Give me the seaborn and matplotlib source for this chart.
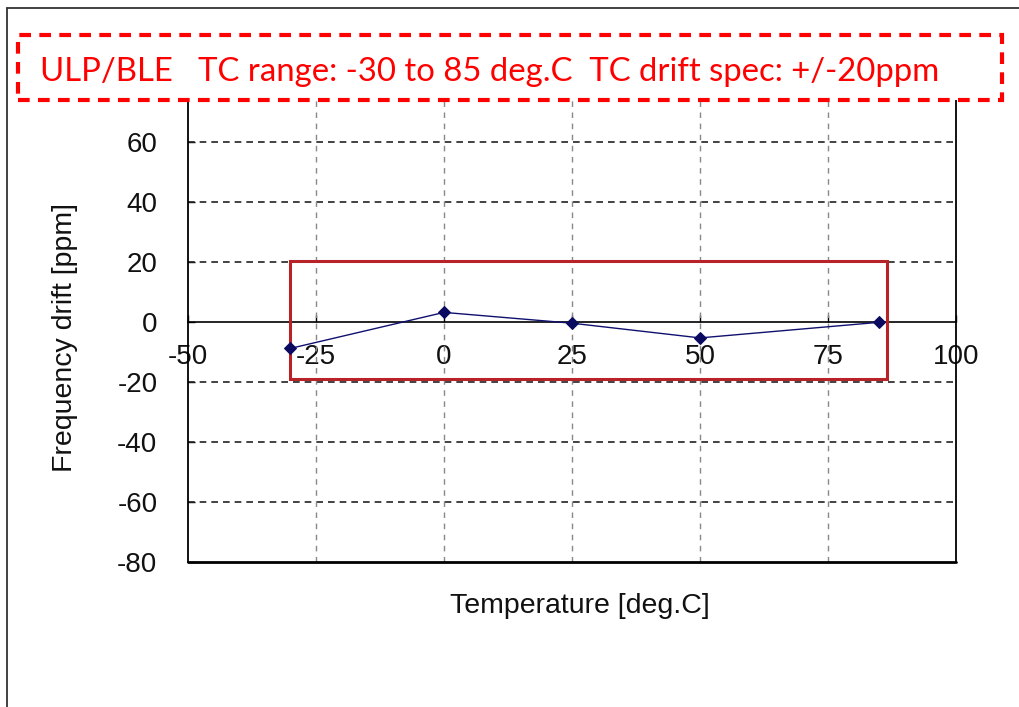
import matplotlib
matplotlib.use("Agg")
import matplotlib.pyplot as plt
from matplotlib.patches import Rectangle
from matplotlib.lines import Line2D
import seaborn as sns
import pandas as pd

# ---- data ----
temperature = [-30, 0, 25, 50, 85]
freq_drift = [-8.8, 3.2, -0.4, -5.3, -0.1]
x_ticks = [-50, -25, 0, 25, 50, 75, 100]
y_ticks = [-80, -60, -40, -20, 0, 20, 40, 60]
spec_range_x = [-30, 86.5]
spec_range_y = [-19, 20.5]
title_text = "ULP/BLE   TC range: -30 to 85 deg.C  TC drift spec: +/-20ppm"
x_label = "Temperature [deg.C]"
y_label = "Frequency drift [ppm]"

sns.set_style("white")
plt.rcParams["font.family"] = ["Liberation Sans", "DejaVu Sans"]

W, H = 1020, 707
fig = plt.figure(figsize=(W / 100, H / 100), dpi=100)
ax = fig.add_axes([188 / W, 145 / H, 768 / W, 480 / H])

df = pd.DataFrame({"T": temperature, "drift": freq_drift})
sns.lineplot(data=df, x="T", y="drift", ax=ax, color="#101070", lw=1.0,
             marker="D", markersize=6.5, markeredgecolor="#0a0a60",
             markerfacecolor="#0a0a60", zorder=5)

ax.set_xlim(-50, 100)
ax.set_ylim(-80, 80)
ax.set_xticks(x_ticks)
ax.set_yticks([t for t in y_ticks])
ax.set_xticklabels([str(t) for t in x_ticks])
ax.set_yticklabels([str(t) for t in y_ticks])

# grid
for yv in y_ticks:
    if yv not in (0, -80):
        ax.axhline(yv, color="#222222", lw=1.2, ls=(0, (4, 3)), zorder=1)
for xv in x_ticks[1:-1]:
    ax.axvline(xv, color="#888888", lw=1.0, ls=(0, (4, 4)), zorder=1)

# spines: x axis crosses at 0
for s in ["left", "right", "top"]:
    ax.spines[s].set_color("black")
    ax.spines[s].set_linewidth(1.3)
    ax.spines[s].set_visible(True)
ax.spines["bottom"].set_position(("data", 0))
ax.spines["bottom"].set_color("black")
ax.spines["bottom"].set_linewidth(1.2)
ax.axhline(ax.get_ylim()[0], color="black", lw=2.0, clip_on=False, zorder=3)

ax.tick_params(axis="x", direction="in", length=5, width=1, pad=16,
               labelsize=20, colors="#111111", bottom=True)
ax.tick_params(axis="y", direction="in", length=5, width=1, pad=22,
               labelsize=20, colors="#111111", left=True)
ax.tick_params(axis="both", color="black")

# spec rectangle
ax.add_patch(Rectangle((spec_range_x[0], spec_range_y[0]),
                       spec_range_x[1] - spec_range_x[0],
                       spec_range_y[1] - spec_range_y[0],
                       fill=False, edgecolor="#B82328", lw=2.2, zorder=4))

ax.set_xlabel(x_label, fontsize=20.5, color="#111111")
ax.set_ylabel(y_label, fontsize=20.5, color="#111111")
ax.xaxis.set_label_coords((580 - 188) / 768, (562 - 593) / 480)
ax.yaxis.set_label_coords((78 - 188) / 768, (562 - 337) / 480)

# outer frame lines
fig.add_artist(Line2D([7 / W, 7 / W], [0, 1 - 8 / H], transform=fig.transFigure,
                      color="#333333", lw=1.3))
fig.add_artist(Line2D([7 / W, 1], [1 - 8 / H, 1 - 8 / H], transform=fig.transFigure,
                      color="#333333", lw=1.3))

# dashed title box
box = Rectangle((18 / W, 1 - 100 / H), (1002 - 18) / W, 65 / H,
                transform=fig.transFigure, facecolor="white", edgecolor="#FF0000",
                lw=3.0, ls=(0, (2.8, 2.0)), zorder=10)
fig.add_artist(box)
t = fig.text(40 / W, 1 - 81 / H, title_text, color="#FF0000", fontsize=24,
             family=["Lato", "DejaVu Sans"], ha="left", va="baseline", zorder=11)
fig.canvas.draw()
bb = t.get_window_extent()
t.set_fontsize(24 * (938 - 40) / bb.width)

fig.savefig("out.png", dpi=100, facecolor="white")
